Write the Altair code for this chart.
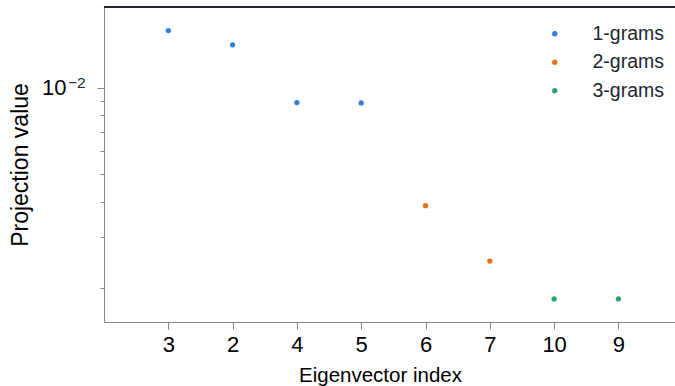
import json
import altair as alt
import pandas as pd

# ---- data ----
indices = ["3", "2", "4", "5", "6", "7", "10", "9"]
values = [0.0158, 0.0141, 0.00886, 0.00884, 0.00387, 0.00248, 0.00183, 0.00183]
groups = ["1-grams", "1-grams", "1-grams", "1-grams", "2-grams", "2-grams", "3-grams", "3-grams"]
series = ["1-grams", "2-grams", "3-grams"]
colors = ["#2f7ed8", "#e8711c", "#2ea36b"]
y_ticks = [0.002, 0.003, 0.004, 0.005, 0.006, 0.007, 0.008, 0.009, 0.01]
major_tick = [0.01]
major_exp = ["−2"]

df = pd.DataFrame({
    "pos": list(range(len(indices))),
    "index": indices,
    "value": values,
    "group": groups,
})
exp_df = pd.DataFrame({"value": major_tick, "exp": major_exp})

W, H = 571, 315
FONT = "Liberation Sans"
INK = "#23272f"

label_expr = json.dumps(indices) + "[datum.value]"
is_major = "abs(datum.value - 0.01) < 1e-9"

yscale = alt.Scale(type="log", domain=[0.00152, 0.0191], nice=False)

points = alt.Chart(df).mark_point(filled=True, size=28, opacity=1).encode(
    x=alt.X("pos:Q",
            scale=alt.Scale(domain=[-1, 7.88], nice=False, zero=False),
            axis=alt.Axis(values=list(range(len(indices))), labelExpr=label_expr,
                          title="Eigenvector index", grid=False,
                          tickSize=7, labelPadding=5, labelFontSize=22,
                          titleFontSize=20.5, titleFontWeight="normal",
                          titleX=276, titleY=59, titleBaseline="alphabetic",
                          titleAlign="center")),
    y=alt.Y("value:Q", scale=yscale,
            axis=alt.Axis(values=y_ticks,
                          labelExpr=is_major + " ? '10' : ''",
                          title="Projection value", grid=False,
                          tickSize={"condition": {"test": is_major, "value": 7}, "value": 4},
                          labelPadding=31, labelFontSize=22,
                          titleFontSize=23, titleFontWeight="normal",
                          titleX=-84, titleY=H / 2, titleAngle=-90,
                          titleAlign="center", titleBaseline="middle")),
    color=alt.Color("group:N",
                    scale=alt.Scale(domain=series, range=colors),
                    legend=alt.Legend(title=None, orient="none", legendX=441, legendY=17,
                                      symbolType="circle", symbolSize=28,
                                      labelFontSize=19.5, labelOffset=28,
                                      rowPadding=7.5, padding=0, labelColor=INK)),
)

exponent = alt.Chart(exp_df).mark_text(
    align="left", baseline="middle", dy=-5, fontSize=15.5, font=FONT, color=INK
).encode(
    y=alt.Y("value:Q", scale=yscale),
    x=alt.value(-36),
    text="exp:N",
)

top_spine = alt.Chart(df).mark_rule(color=INK, strokeWidth=1.5).encode(
    x=alt.value(0), x2=alt.value(W), y=alt.value(0)
)

chart = alt.layer(points, exponent, top_spine).properties(
    width=W, height=H,
    autosize=alt.AutoSizeParams(type="none"),
    padding={"left": 104, "top": 7, "right": 0, "bottom": 64},
).configure_view(stroke="transparent").configure_axis(
    domainColor=INK, domainWidth=1.5, tickColor=INK, tickWidth=1.5,
    labelColor=INK, titleColor=INK, labelFont=FONT, titleFont=FONT,
).configure_legend(labelFont=FONT).configure(background="white")

chart.save("out.html", embed_options={"renderer": "svg", "actions": False})
